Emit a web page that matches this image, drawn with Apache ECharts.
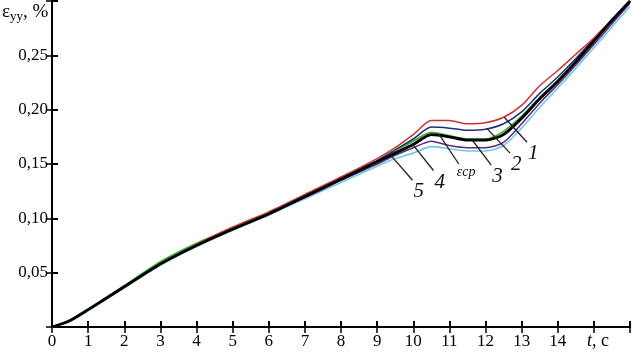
<!DOCTYPE html>
<html><head><meta charset="utf-8">
<script src="https://cdn.jsdelivr.net/npm/echarts@6/dist/echarts.min.js"></script>
<style>html,body{margin:0;padding:0;background:#fff}#c{width:633px;height:352px}</style>
</head><body><div id="c"></div>
<script>
var times = [0,0.5,1,2,3,4,5,6,7,8,9,9.5,10,10.5,11,11.5,12,12.5,13,13.5,14,14.5,15,15.5,16];
var curve1 = [0,0.006,0.016,0.037,0.058,0.076,0.092,0.106,0.122,0.138,0.155,0.165,0.177,0.190,0.190,0.187,0.188,0.193,0.204,0.222,0.236,0.251,0.266,0.283,0.300];
var curve2 = [0,0.006,0.016,0.037,0.058,0.075,0.090,0.104,0.120,0.137,0.153,0.163,0.173,0.184,0.183,0.181,0.182,0.187,0.198,0.215,0.230,0.247,0.265,0.283,0.300];
var curve3 = [0,0.006,0.016,0.038,0.060,0.077,0.091,0.105,0.121,0.137,0.153,0.162,0.171,0.179,0.176,0.173,0.173,0.180,0.194,0.211,0.227,0.245,0.264,0.282,0.300];
var curve4 = [0,0.006,0.016,0.037,0.058,0.075,0.090,0.104,0.119,0.135,0.150,0.158,0.165,0.171,0.167,0.165,0.165,0.170,0.187,0.206,0.223,0.241,0.260,0.279,0.298];
var curve5 = [0,0.005,0.015,0.036,0.057,0.074,0.089,0.103,0.118,0.133,0.148,0.155,0.160,0.166,0.164,0.162,0.162,0.167,0.183,0.202,0.220,0.238,0.257,0.276,0.295];
var curveAvg = [0,0.006,0.016,0.037,0.058,0.075,0.090,0.104,0.120,0.136,0.152,0.160,0.168,0.177,0.175,0.172,0.172,0.177,0.192,0.210,0.226,0.244,0.263,0.282,0.300];
var xTickLabels = ['0','1','2','3','4','5','6','7','8','9','10','11','12','13','14'];
var yTickLabels = ['0,05','0,10','0,15','0,20','0,25'];
// annotation leader lines: [label, fromT, fromY, toT, toY]
var leaders = [
  ['1', 12.52, 0.193, 13.15, 0.170],
  ['2', 12.03, 0.183, 12.68, 0.160],
  ['3', 11.61, 0.173, 12.16, 0.149],
  ['εср', 10.70, 0.178, 11.26, 0.150],
  ['4', 9.96, 0.169, 10.56, 0.144],
  ['5', 9.38, 0.158, 9.98, 0.135]
];

function pairs(arr){ return times.map(function(t,i){ return [t, arr[i]]; }); }
var FONT = '"Liberation Serif","DejaVu Serif",serif';
var chart = echarts.init(document.getElementById('c'));
function mkSeries(name, arr, color, w, z){
  return {name:name, type:'line', data:pairs(arr), showSymbol:false, smooth:0.25,
    lineStyle:{color:color, width:w}, z:z, silent:true, animation:false};
}
var axisLineStyle = {color:'#000', width:2};
chart.setOption({
  animation:false,
  grid:{left:52, right:2, top:1, bottom:25},
  xAxis:[{
    type:'value', min:0, max:16, interval:1,
    axisLine:{show:true, onZero:false, lineStyle:axisLineStyle},
    axisTick:{show:true, inside:true, length:6, lineStyle:{color:'#000', width:2}},
    splitLine:{show:false},
    axisLabel:{margin:6, color:'#000', fontFamily:FONT, fontSize:17,
      formatter:function(v){ var i=Math.round(v); return i < xTickLabels.length ? xTickLabels[i] : ''; }}
  },{
    type:'value', position:'top', min:0, max:16, interval:1,
    axisLine:{show:true, lineStyle:axisLineStyle},
    axisTick:{show:true, inside:true, length:6, lineStyle:{color:'#000', width:1.5}},
    axisLabel:{show:false}, splitLine:{show:false}
  }],
  yAxis:[{
    type:'value', min:0, max:0.30, interval:0.05,
    axisLine:{show:true, onZero:false, lineStyle:axisLineStyle},
    axisTick:{show:true, inside:true, length:6, lineStyle:{color:'#000', width:2}},
    splitLine:{show:false},
    axisLabel:{margin:4, color:'#000', fontFamily:FONT, fontSize:17,
      formatter:function(v){ var i=Math.round(v/0.05); return (i>=1 && i<=yTickLabels.length) ? yTickLabels[i-1] : ''; }}
  },{
    type:'value', position:'right', min:0, max:0.30, interval:0.05,
    axisLine:{show:true, lineStyle:axisLineStyle},
    axisTick:{show:true, inside:true, length:6, lineStyle:{color:'#000', width:1.5}},
    axisLabel:{show:false}, splitLine:{show:false}
  }],
  series:[
    mkSeries('5', curve5, '#6ec9e6', 1.6, 2),
    mkSeries('4', curve4, '#5e2a78', 1.5, 3),
    mkSeries('3', curve3, '#3fae3a', 1.8, 4),
    mkSeries('2', curve2, '#1f2f78', 1.5, 5),
    mkSeries('1', curve1, '#c8352e', 1.5, 6),
    mkSeries('εср', curveAvg, '#000000', 2.8, 7)
  ]
});

var g = [];
leaders.forEach(function(a){
  var p1 = chart.convertToPixel({gridIndex:0}, [a[1], a[2]]);
  var p2 = chart.convertToPixel({gridIndex:0}, [a[3], a[4]]);
  g.push({type:'line', shape:{x1:p1[0], y1:p1[1], x2:p2[0], y2:p2[1]}, style:{stroke:'#222', lineWidth:1.3}, z:20});
  var isEps = a[0] === 'εср';
  g.push({type:'text', x:p2[0] + (isEps ? -2 : 1), y:p2[1] + 1, z:20,
    style:{text:a[0], font:(isEps ? 'italic 14px ' : 'italic 21px ') + FONT, fill:'#111', align:'left', verticalAlign:'top'}});
});
g.push({type:'text', left:2, top:3, z:20, style:{
  text:'{e|ε}{s|yy}{e|, %}',
  rich:{e:{font:'19px ' + FONT, fill:'#000'}, s:{font:'13px ' + FONT, fill:'#000', padding:[8,0,0,0]}}
}});
g.push({type:'text', left:587, top:332, z:20, style:{
  text:'{i|t}{n|, c}',
  rich:{i:{font:'italic 18px ' + FONT, fill:'#000'}, n:{font:'18px ' + FONT, fill:'#000'}}
}});
chart.setOption({graphic:g});
</script></body></html>
